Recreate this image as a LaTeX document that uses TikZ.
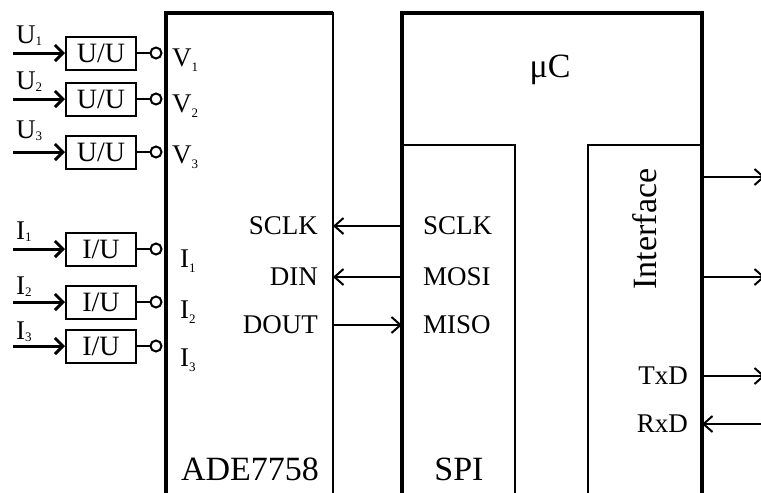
\documentclass[tikz,border=0pt]{standalone}
\usepackage{fontspec}
\setmainfont{Liberation Serif}
\usetikzlibrary{arrows.meta}

\newcommand{\lowsub}[2][5pt]{\raisebox{-#1}{\fontsize{13}{13}\selectfont #2}}

\tikzset{
  conv/.style={draw, line width=2pt, minimum width=70pt, minimum height=33pt,
    inner sep=1pt, font=\fontsize{28}{28}\selectfont},
  pinc/.style={draw, circle, line width=2pt, minimum size=11pt, inner sep=0pt, fill=white},
  inarr/.style={line width=3pt, -{Straight Barb[length=8pt,width=16pt]}},
  sigarr/.style={line width=2pt, -{Straight Barb[length=9pt,width=16pt]}},
  lbl/.style={font=\fontsize{27}{27}\selectfont, inner sep=0pt},
  big/.style={font=\fontsize{34}{34}\selectfont, inner sep=0pt},
  block/.style={draw, anchor=north west, inner sep=0pt, outer sep=0pt},
}

\begin{document}
\begin{tikzpicture}[x=1pt,y=-1pt]
\useasboundingbox (0,0) rectangle (761,493);

% ADE7758 chip
\node[block, line width=2.5pt, minimum width=167pt, minimum height=520pt] (ade) at (166,13) {};
\draw[line width=3.2pt] (ade.south west) -- (ade.north west) -- (ade.north east);
\node[big] (adename) at (250,469) {ADE7758};

% microcontroller with SPI and interface
\node[block, line width=3.5pt, minimum width=300pt, minimum height=520pt] (mcu) at (402,13) {};
\node[big] (mcuname) at (550,70) {μC};
\node[block, line width=2pt, minimum width=113pt, minimum height=400pt] (spi) at (402,145) {};
\node[big] (spiname) at (459,469) {SPI};
\node[block, line width=2pt, minimum width=114pt, minimum height=400pt] (iface) at (588,145) {};
\node[big, rotate=90] (ifname) at (645,229) {Interface};

% voltage channels
\coordinate (u1in) at (13,53);
\node[conv] (uu1) at (101,53) {U/U};
\node[pinc] (v1p) at (156,53) {};
\draw[inarr] (u1in) -- (uu1);
\draw[line width=2pt] (uu1) -- (v1p);
\node[lbl, anchor=base west] (u1) at (16,43) {U\lowsub[2pt]{1}};
\node[lbl, anchor=base west] (v1) at (172,66) {V\lowsub{1}};

\coordinate (u2in) at (13,99);
\node[conv] (uu2) at (101,99) {U/U};
\node[pinc] (v2p) at (156,99) {};
\draw[inarr] (u2in) -- (uu2);
\draw[line width=2pt] (uu2) -- (v2p);
\node[lbl, anchor=base west] (u2) at (16,89) {U\lowsub[2pt]{2}};
\node[lbl, anchor=base west] (v2) at (172,112) {V\lowsub{2}};

\coordinate (u3in) at (13,152);
\node[conv] (uu3) at (101,152) {U/U};
\node[pinc] (v3p) at (156,152) {};
\draw[inarr] (u3in) -- (uu3);
\draw[line width=2pt] (uu3) -- (v3p);
\node[lbl, anchor=base west] (u3) at (16,138) {U\lowsub[2pt]{3}};
\node[lbl, anchor=base west] (v3) at (172,163) {V\lowsub{3}};

% current channels
\coordinate (i1in) at (13,249);
\node[conv] (iu1) at (101,249) {I/U};
\node[pinc] (i1p) at (156,249) {};
\draw[inarr] (i1in) -- (iu1);
\draw[line width=2pt] (iu1) -- (i1p);
\node[lbl, anchor=base west] (i1) at (16,239) {I\lowsub[2pt]{1}};
\node[lbl, anchor=base west] (ia1) at (180,267) {I\lowsub{1}};

\coordinate (i2in) at (13,302);
\node[conv] (iu2) at (101,302) {I/U};
\node[pinc] (i2p) at (156,302) {};
\draw[inarr] (i2in) -- (iu2);
\draw[line width=2pt] (iu2) -- (i2p);
\node[lbl, anchor=base west] (i2) at (16,294) {I\lowsub[2pt]{2}};
\node[lbl, anchor=base west] (ia2) at (180,318) {I\lowsub{2}};

\coordinate (i3in) at (13,346);
\node[conv] (iu3) at (101,346) {I/U};
\node[pinc] (i3p) at (156,346) {};
\draw[inarr] (i3in) -- (iu3);
\draw[line width=2pt] (iu3) -- (i3p);
\node[lbl, anchor=base west] (i3) at (16,339) {I\lowsub[2pt]{3}};
\node[lbl, anchor=base west] (ia3) at (180,366) {I\lowsub{3}};

% SPI lines
\node[lbl, anchor=east] (asclk) at (318,226) {SCLK};
\node[lbl, anchor=west] (msclk) at (423,226) {SCLK};
\draw[sigarr] (spi.west |- msclk) -- (ade.east |- asclk);

\node[lbl, anchor=east] (adin) at (318,277) {DIN};
\node[lbl, anchor=west] (mmosi) at (423,277) {MOSI};
\draw[sigarr] (spi.west |- mmosi) -- (ade.east |- adin);

\node[lbl, anchor=east] (adout) at (318,325) {DOUT};
\node[lbl, anchor=west] (mmiso) at (423,325) {MISO};
\draw[sigarr] (ade.east |- adout) -- (spi.west |- mmiso);

% interface outputs
\coordinate (out1) at (765,177);
\draw[sigarr] (iface.east |- out1) -- (out1);
\coordinate (out2) at (765,277);
\draw[sigarr] (iface.east |- out2) -- (out2);

\node[lbl, anchor=east] (txd) at (688,376) {TxD};
\coordinate (out3) at (765,376);
\draw[sigarr] (iface.east |- txd) -- (out3);

\node[lbl, anchor=east] (rxd) at (688,424) {RxD};
\coordinate (in4) at (765,424);
\draw[sigarr] (in4) -- (iface.east |- rxd);

\end{tikzpicture}
\end{document}
